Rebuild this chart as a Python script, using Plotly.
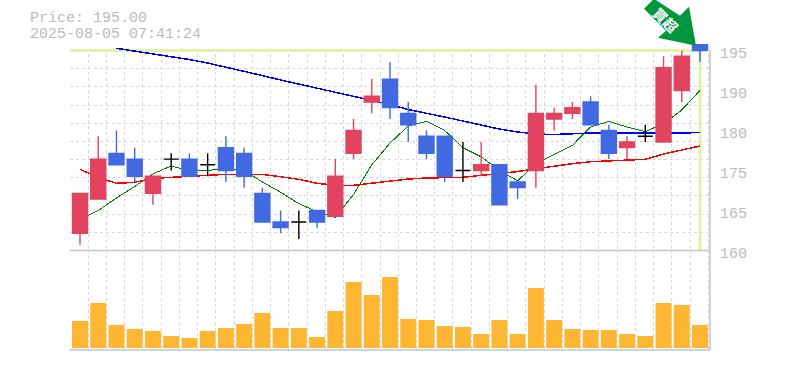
import plotly.graph_objects as go

dates = ["6/17","6/18","6/19","6/20","6/23","6/24","6/25","6/26","6/27","6/30",
         "7/1","7/2","7/3","7/4","7/7","7/8","7/9","7/10","7/11","7/14",
         "7/15","7/16","7/17","7/18","7/22","7/23","7/24","7/25","7/28","7/29",
         "7/30","7/31","8/1","8/4","8/5"]
opens = [163,169,177,176,170,176,176,175,178,177,170,165,165,167,166,177,186,190,184,180,
         180,174,174,175,172,174,183,184,186,181,178,180,179,188,196]
closes = [170,176,175,173,173,176,173,175,174,173,165,164,165,165,173,181,187,185,182,177,
          173,174,175,168,171,184,184,185,182,177,179,180,192,194,195]
highs = [170,180,181,178,173,177,177,177,180,178,171,167,167,167,176,183,190,193,186,181,
         180,179,179,175,172,189,185,186,187,182,180,182,194,195,196]
lows = [161,169,175,172,168,174,173,173,172,171,165,163,162,164,166,176,184,183,179,176,
        172,172,173,168,169,171,181,183,182,176,176,179,179,186,193]
ma5 = [165.4,167,169.2,171.2,173.4,174.8,174,174,174.4,174,172,170.2,168.2,166.8,165.8,169.8,
       175,178.8,181.8,182.6,181,178,176.4,174,172.2,175.2,176.8,178.4,181.6,182.6,181.6,180.8,
       182.2,184.6,188]
ma25 = [174.2,172.8,171.76,171.93,172.63,172.81,173.04,173.16,173.33,173.33,173.33,172.91,172.46,
        171.76,171.41,171.41,171.76,172.04,172.51,172.69,172.69,172.81,173.16,173.51,173.82,174.31,
        174.79,175.19,175.54,175.71,175.84,175.96,176.89,177.59,178.29]
ma75 = [None,None,195.39,194.91,194.44,193.98,193.42,192.81,192.11,191.41,190.62,189.84,189.14,
        188.35,187.65,187.04,186.25,185.55,184.67,184.06,183.36,182.66,181.96,181.26,180.74,180.39,
        180.3,180.47,180.56,180.56,180.56,180.51,180.47,180.56,180.65]
volumes = [27,45,23,19,17,12,10,17,20,24,35,20,20,11,37,66,53,71,29,28,22,21,14,28,14,60,28,19,18,18,
           14,12,45,43,23]
price_ticks = [195,188,181,174,167,160]
price_labels = ["195","190","180","175","165","160"]
date_tick_idx = [4,9,14,19,24,29,34]
title_lines = ["Price: 195.00","2025-08-05 07:41:24"]
badge = "買超"

RED, BLUE, BLACK = "#e2435f", "#4169e1", "#000000"
GRID, TXT, FRAME = "#d8d8d8", "#bbbbbb", "#c4c4c4"
XMIN, XMAX = -0.548, 34.548
YMIN, YMAX = 159.915, 203.84

idx = list(range(len(dates)))
doji = [i for i in idx if opens[i] == closes[i]]
rest = [i for i in idx if opens[i] != closes[i]]

fig = go.Figure()
for vals, col, w in ((ma5, "#008000", 1), (ma25, "#ff0000", 1.5), (ma75, "#0000ff", 1.5)):
    fig.add_trace(go.Scatter(x=idx, y=vals, mode="lines", line=dict(color=col, width=w), zorder=0,
                             hoverinfo="skip", showlegend=False))


def candle(sel, up, down):
    return go.Candlestick(
        x=sel, open=[opens[i] for i in sel], high=[highs[i] for i in sel],
        low=[lows[i] for i in sel], close=[closes[i] for i in sel],
        increasing=dict(line=dict(color=up, width=1.4), fillcolor=up),
        decreasing=dict(line=dict(color=down, width=1.4), fillcolor=down),
        zorder=1, showlegend=False, hoverinfo="skip")


fig.add_trace(candle(rest, RED, BLUE))
fig.add_trace(candle(doji, BLACK, BLACK))
fig.add_trace(go.Bar(x=idx, y=volumes, width=0.877, marker=dict(color="#ffb733", line_width=0),
                     xaxis="x2", yaxis="y2", showlegend=False, hoverinfo="skip"))

W, H = 785, 370
ML, MR, MT, MB = 70, 75, 0, 20
PH = H - MT - MB
PW = W - ML - MR


def px(xp):
    return (xp - ML) / PW


def py(yp):
    return (MT + PH - yp) / PH


grid = dict(showgrid=True, gridcolor=GRID, griddash="3px,3px", gridwidth=1)
mx = dict(tickmode="linear", tick0=XMIN, dtick=1, **grid)
fig.update_layout(
    width=W, height=H, margin=dict(l=ML, r=MR, t=MT, b=MB, pad=0), paper_bgcolor="white",
    plot_bgcolor="white", showlegend=False, boxgap=0.18, boxgroupgap=0,
    font=dict(family="Liberation Mono", color=TXT),
    xaxis=dict(domain=[0, 1], range=[XMIN, XMAX], anchor="y", showgrid=False, zeroline=False,
               showline=False, rangeslider=dict(visible=False), minor=mx,
               tickmode="array", tickvals=date_tick_idx, ticktext=[dates[i] for i in date_tick_idx],
               ticks="outside", ticklen=3, tickcolor="rgba(0,0,0,0)",
               tickfont=dict(size=10, color=TXT, family="Liberation Mono")),
    xaxis2=dict(domain=[0, 1], range=[XMIN, XMAX], anchor="y2", showgrid=False, zeroline=False,
                showline=False, minor=mx, showticklabels=False, ticks="",
                tickmode="array", tickvals=[]),
    yaxis=dict(domain=[py(251), 1], range=[YMIN, YMAX], anchor="x", side="right",
               showgrid=False, zeroline=False, showline=False,
               minor=dict(tickmode="linear", tick0=160, dtick=35 / 11, **grid),
               tickmode="array", tickvals=price_ticks, ticktext=price_labels,
               ticks="outside", ticklen=6, tickcolor="rgba(0,0,0,0)", ticklabelshift=2,
               tickfont=dict(size=15, color=TXT, family="Liberation Mono")),
    yaxis2=dict(domain=[0, py(250)], range=[-2, 98], anchor="x2", showgrid=False, zeroline=False,
                showline=False, showticklabels=False, ticks=""),
    shapes=[
        dict(type="rect", xref="x", yref="y", x0=XMIN - 0.1, x1=XMAX + 0.1, y0=195.05, y1=YMAX,
             layer="between", fillcolor="white", line_width=0),
        dict(type="line", xref="x", yref="y", x0=XMIN, x1=34, y0=195, y1=195, layer="between",
             line=dict(color="#e2f2a8", width=3)),
        dict(type="line", xref="x", yref="y", x0=34, x1=34, y0=160, y1=195, layer="between",
             line=dict(color="#e2f2a8", width=3)),
        dict(type="line", xref="paper", yref="paper", x0=0, x1=1, y0=py(250.5), y1=py(250.5),
             layer="above", line=dict(color=FRAME, width=1.5)),
        dict(type="line", xref="paper", yref="paper", x0=0, x1=1, y0=py(350), y1=py(350),
             layer="above", line=dict(color=FRAME, width=1.5)),
        dict(type="line", xref="paper", yref="paper", x0=1, x1=1, y0=py(350), y1=py(50),
             layer="above", line=dict(color=FRAME, width=1.5)),
        dict(type="path", xref="x", yref="y", xsizemode="pixel", ysizemode="pixel",
             xanchor=34, yanchor=196, layer="above", fillcolor="#00963f", line_width=0,
             path="M-4,-1 L-11,38 L-20,29 L-46,46 L-56,36 L-34,14 L-42,7 Z"),
    ],
    annotations=[
        dict(xref="paper", yref="paper", x=px(28), y=py(19), xanchor="left", yanchor="middle",
             text=title_lines[0], showarrow=False, font=dict(size=15, color=TXT, family="Liberation Mono")),
        dict(xref="paper", yref="paper", x=px(28), y=py(34), xanchor="left", yanchor="middle",
             text=title_lines[1], showarrow=False, font=dict(size=15, color=TXT, family="Liberation Mono")),
        dict(xref="paper", yref="paper", x=px(666), y=py(19.5), xanchor="center", yanchor="middle",
             text="<b>" + badge + "</b>", textangle=45, showarrow=False, borderpad=0, borderwidth=0,
             font=dict(size=14, color="white", family="Noto Sans CJK JP")),
    ],
)

crisp = ("document.body.style.margin='0';"
         "document.querySelectorAll('.scatterlayer path.js-line').forEach("
         "function(p){p.style.shapeRendering='crispEdges';});")
fig.write_html("out.html", post_script=crisp, config=dict(displayModeBar=False))
